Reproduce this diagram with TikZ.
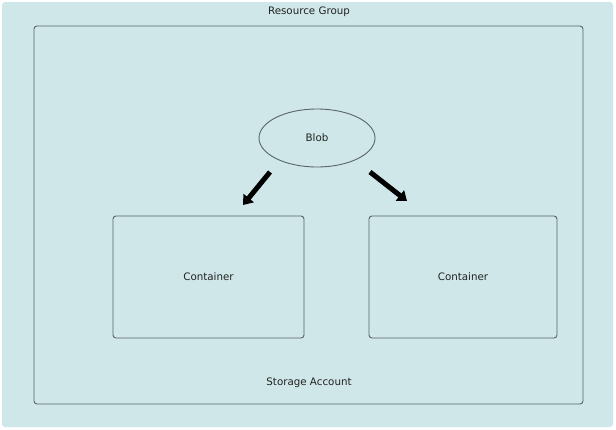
\documentclass[tikz,border=0pt]{standalone}
\usepackage{fontspec}
\setmainfont{DejaVu Sans}
\usetikzlibrary{arrows.meta, shapes.geometric}
\definecolor{groupfill}{HTML}{CFE7E8}
\definecolor{boxline}{HTML}{5A6464}
\definecolor{labeltext}{HTML}{222222}

\begin{document}
\begin{tikzpicture}[x=1pt, y=-1pt, font=\fontsize{10.3}{12}\selectfont, text=labeltext]
        \tikzstyle{group} = [fill=groupfill, draw=none, rounded corners=3pt]
        \tikzstyle{account} = [draw=boxline, line width=0.9pt, rounded corners=3pt]
        \tikzstyle{box} = [draw=boxline, line width=0.9pt, rounded corners=3pt]
        \tikzstyle{blob} = [draw=boxline, line width=0.9pt, ellipse, minimum width=116pt, minimum height=58pt]
        \tikzstyle{link} = [-{Triangle[length=9pt, width=13pt]}, line width=5pt, black]
        \useasboundingbox (0,0) rectangle (616,429);
        \fill[group] (2,2) rectangle (613,427);
        \node (grouplabel) at (309,11.5) {Resource Group};
        \draw[account] (34,26) rectangle (583,404);
        \node (accountlabel) at (309,382.5) {Storage Account};
        \node[blob] (blob) at (317,138) {Blob};
        \node[box, minimum width=191pt, minimum height=122pt, text height=8pt] (container1) at (208.5,277) {Container};
        \node[box, minimum width=188pt, minimum height=122pt, text height=8pt] (container2) at (463,277) {Container};
        \coordinate (start1) at (270,172);
        \coordinate (tip1) at (243,205);
        \coordinate (start2) at (370,172);
        \coordinate (tip2) at (407,201);
        \draw[link] (start1) -- (tip1);
        \draw[link] (start2) -- (tip2);
    \end{tikzpicture}
\end{document}
